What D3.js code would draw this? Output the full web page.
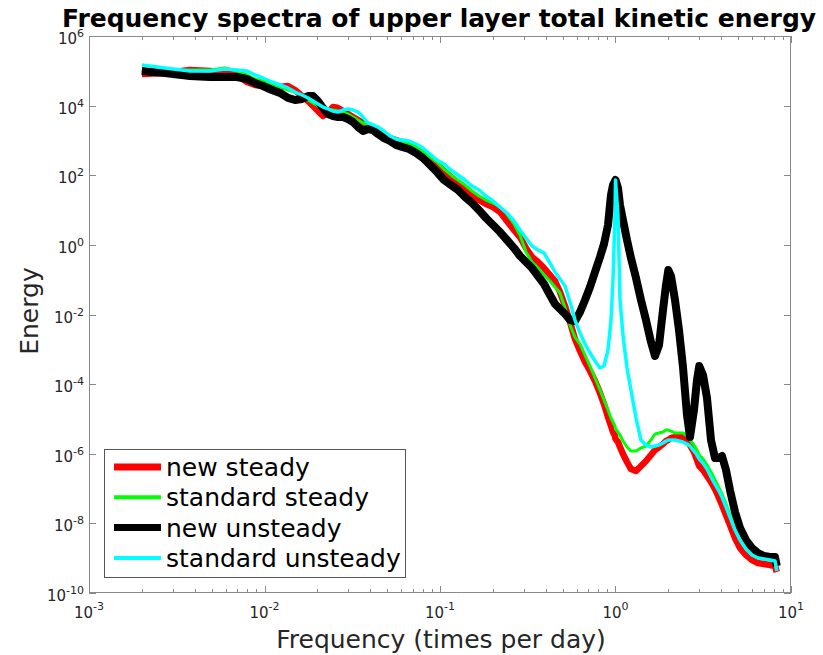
<!DOCTYPE html>
<html>
<head>
<meta charset="utf-8">
<script src="https://cdn.jsdelivr.net/npm/d3@7"></script>
<style>
html,body{margin:0;padding:0;background:#fff;}
svg{display:block;font-family:"DejaVu Sans",sans-serif;}
</style>
</head>
<body>
<svg id="chart" width="823" height="655"></svg>
<script>
// ---- data ----
const freq = [0.002, 0.00271, 0.00376, 0.00489, 0.00596, 0.00697, 0.00795, 0.00883, 0.0098, 0.01103,
  0.01226, 0.01361, 0.01492, 0.01636, 0.0177, 0.0189, 0.02017, 0.02154, 0.023, 0.02457,
  0.02623, 0.02802, 0.02991, 0.03194, 0.03411, 0.03642, 0.03888, 0.04153, 0.04433, 0.04797,
  0.0519, 0.05615, 0.06075, 0.0666, 0.073, 0.08, 0.0877, 0.0961, 0.1054, 0.1155,
  0.1266, 0.1388, 0.1522, 0.1668, 0.1829, 0.2005, 0.2198, 0.2409, 0.2641, 0.2857,
  0.309, 0.3344, 0.3618, 0.3914, 0.4234, 0.4522, 0.4829, 0.5157, 0.5505, 0.5878,
  0.6277, 0.6704, 0.7157, 0.7642, 0.8161, 0.86, 0.9064, 0.9427, 0.9678, 0.9936,
  1.0, 1.033, 1.061, 1.103, 1.163, 1.225, 1.309, 1.397, 1.492, 1.593,
  1.679, 1.77, 1.865, 1.94, 2.0, 2.071, 2.183, 2.3, 2.424, 2.555,
  2.657, 2.801, 2.913, 3.0, 3.152, 3.322, 3.501, 3.69, 3.888, 4.044,
  4.262, 4.491, 4.797, 5.123, 5.542, 5.996, 6.486, 7.018, 7.592, 8.107, 8.3];

const newSteady = [8.1e4, 8.65e4, 1.055e5, 9.9e4, 9.24e4, 7.58e4, 4.77e4, 3.91e4, 3.66e4, 3.43e4,
  3.43e4, 3.66e4, 2.81e4, 1.89e4, 1.36e4, 9.75e3, 7.0e3, 5.03e3, 6.56e3, 9.13e3,
  8.55e3, 7.0e3, 5.74e3, 4.71e3, 3.86e3, 3.17e3, 2.6e3, 2.28e3, 1.75e3, 1.43e3,
  1.17e3, 1.03e3, 902, 739, 567, 408, 293, 210, 132, 89,
  59.9, 43, 27.1, 19.4, 14.9, 12.2, 8.79, 4.85, 2.67, 1.68,
  0.812, 0.448, 0.322, 0.216, 0.1362, 0.0916, 0.0442, 0.01752, 6.08e-3, 1.975e-3,
  8.93e-4, 4.32e-4, 2.38e-4, 1.228e-4, 5.55e-5, 2.68e-5, 1.135e-5, 6.26e-6, 4.21e-6, 3.23e-6,
  2.65e-6, 2.17e-6, 1.56e-6, 9.82e-7, 5.79e-7, 3.64e-7, 3.19e-7, 4.44e-7, 6.18e-7, 9.19e-7,
  1.279e-6, 1.56e-6, 1.903e-6, 2.32e-6, 2.48e-6, 2.83e-6, 3.02e-6, 3.02e-6, 3.02e-6, 2.48e-6,
  1.781e-6, 1.121e-6, 6.6e-7, 4.44e-7, 3.41e-7, 2.29e-7, 1.541e-7, 9.7e-8, 5.35e-8, 3.37e-8,
  1.737e-8, 8.96e-9, 3.79e-9, 1.957e-9, 1.232e-9, 8.86e-10, 7.26e-10, 6.79e-10, 6.36e-10, 5.95e-10, 4.0e-10];

const standardSteady = [1.055e5, 9.9e4, 1.055e5, 1.055e5, 1.204e5, 9.9e4, 7.58e4, 5.82e4, 5.1e4, 4.18e4,
  3.43e4, 2.81e4, 2.46e4, 1.89e4, 1.45e4, 1.19e4, 9.75e3, 8.0e3, 7.48e3, 7.48e3,
  7.0e3, 6.56e3, 5.74e3, 4.71e3, 3.86e3, 3.17e3, 2.78e3, 2.28e3, 1.87e3, 1.53e3,
  1.255e3, 1.1e3, 963, 790, 648, 465, 334, 240, 151, 102,
  73, 52.4, 35.3, 25.3, 19.4, 15.9, 12.2, 7.7, 3.98, 1.92,
  0.624, 0.322, 0.216, 0.1362, 0.0916, 0.0616, 0.0414, 0.01535, 4.99e-3, 2.25e-3,
  1.42e-3, 6.86e-4, 3.31e-4, 1.497e-4, 6.77e-5, 3.5e-5, 1.804e-5, 1.062e-5, 8.15e-6, 6.26e-6,
  5.13e-6, 4.21e-6, 3.45e-6, 2.32e-6, 1.56e-6, 1.197e-6, 1.197e-6, 1.461e-6, 1.667e-6, 2.48e-6,
  3.69e-6, 3.94e-6, 4.21e-6, 4.8e-6, 4.8e-6, 4.49e-6, 3.94e-6, 3.94e-6, 3.94e-6, 3.23e-6,
  2.48e-6, 1.781e-6, 1.279e-6, 9.19e-7, 7.06e-7, 4.74e-7, 2.99e-7, 1.758e-7, 1.036e-7, 6.97e-8,
  3.59e-8, 1.737e-8, 6.88e-9, 3.32e-9, 1.833e-9, 1.232e-9, 1.011e-9, 9.46e-10, 8.86e-10, 8.29e-10, 4.57e-10];

const newUnsteady = [9.9e4, 8.65e4, 7.1e4, 6.64e4, 6.64e4, 6.64e4, 5.82e4, 4.47e4, 3.66e4, 2.81e4,
  2.31e4, 1.66e4, 1.45e4, 1.55e4, 1.89e4, 1.89e4, 1.36e4, 8.55e3, 5.74e3, 5.03e3,
  4.71e3, 4.71e3, 4.13e3, 3.38e3, 2.43e3, 1.87e3, 2.13e3, 1.99e3, 1.53e3, 1.17e3,
  963, 739, 648, 567, 436, 313, 197, 124, 73, 52.4,
  37.7, 23.7, 15.9, 10.0, 5.91, 3.72, 2.34, 1.38, 0.812, 0.479,
  0.322, 0.216, 0.1275, 0.0751, 0.0363, 0.02, 0.01438, 0.01032, 6.94e-3, 6.5e-3,
  0.01179, 0.0261, 0.0616, 0.1662, 0.448, 1.059, 3.72, 27.1, 52.4, 68.3,
  73, 43, 13.97, 5.18, 1.38, 0.4195, 0.1117, 0.0261, 6.94e-3, 1.62e-3,
  6.42e-4, 1.328e-3, 0.01345, 0.0703, 0.1897, 0.1275, 0.0261, 3.58e-3, 3.1e-4, 1.296e-5,
  3.02e-6, 1.804e-5, 1.312e-4, 3.31e-4, 1.827e-4, 3.99e-5, 2.48e-6, 7.54e-7, 7.54e-7, 8.6e-7,
  3.41e-7, 9.08e-8, 2.12e-8, 7.35e-9, 3.32e-9, 1.957e-9, 1.406e-9, 1.153e-9, 1.08e-9, 1.08e-9, 5.95e-10];

const standardUnsteady = [1.469e5, 1.204e5, 9.9e4, 9.9e4, 1.127e5, 1.055e5, 9.9e4, 7.58e4, 6.22e4, 4.77e4,
  3.91e4, 3.21e4, 2.46e4, 2.02e4, 1.66e4, 1.36e4, 1.113e4, 9.13e3, 8.0e3, 7.0e3,
  6.56e3, 7.48e3, 8.0e3, 7.48e3, 6.56e3, 4.71e3, 3.17e3, 2.78e3, 2.43e3, 1.87e3,
  1.341e3, 1.1e3, 1.03e3, 963, 790, 606, 408, 274, 210, 141,
  102, 73, 49.1, 37.7, 25.3, 18.2, 12.2, 8.23, 4.85, 2.67,
  1.575, 0.928, 0.712, 0.584, 0.301, 0.1662, 0.1046, 0.0658, 0.0228, 6.94e-3,
  2.94e-3, 1.42e-3, 7.83e-4, 4.61e-4, 2.9e-4, 3.31e-4, 9.54e-4, 6.94e-3, 0.0979, 7.21,
  73, 7.21, 0.0261, 2.57e-3, 2.9e-4, 6.77e-5, 1.062e-5, 2.48e-6, 1.781e-6, 1.56e-6,
  1.667e-6, 1.781e-6, 2.03e-6, 2.32e-6, 2.48e-6, 2.48e-6, 2.48e-6, 2.32e-6, 2.17e-6, 1.903e-6,
  1.667e-6, 1.197e-6, 9.19e-7, 7.06e-7, 5.41e-7, 3.64e-7, 2.14e-7, 1.35e-7, 8.5e-8, 5.71e-8,
  2.95e-8, 1.522e-8, 6.44e-9, 3.32e-9, 1.833e-9, 1.232e-9, 1.011e-9, 9.46e-10, 8.86e-10, 8.29e-10, 4.28e-10];

const seriesNames = ["new steady", "standard steady", "new unsteady", "standard unsteady"];
const seriesColors = ["#ff0000", "#00ff00", "#000000", "#00ffff"];
const xTickValues = [1e-3, 1e-2, 1e-1, 1, 10];
const xTickExps = ["-3", "-2", "-1", "0", "1"];
const yTickValues = [1e-10, 1e-8, 1e-6, 1e-4, 1e-2, 1, 1e2, 1e4, 1e6];
const yTickExps = ["-10", "-8", "-6", "-4", "-2", "0", "2", "4", "6"];
const titleText = "Frequency spectra of upper layer total kinetic energy";
const xLabel = "Frequency (times per day)";
const yLabel = "Energy";

// ---- layout ----
const L = 89, R = 791, T = 36, B = 593;
const svg = d3.select("#chart");
const x = d3.scaleLog().domain([1e-3, 10]).range([L, R]);
const y = d3.scaleLog().domain([1e-10, 1e6]).range([B, T]);
const axisColor = "#8a8a8a", textColor = "#262626";

// lines
const seriesData = [newSteady, standardSteady, newUnsteady, standardUnsteady];
const widths = [6.5, 3, 8, 3.5];
const line = d3.line().x(d => x(d[0])).y(d => y(d[1]));
seriesData.forEach((vals, i) => {
  const pts = freq.map((f, j) => [f, vals[j]]);
  svg.append("path").attr("d", line(pts))
    .attr("fill", "none").attr("stroke", seriesColors[i])
    .attr("stroke-width", widths[i]).attr("stroke-linejoin", "round").attr("stroke-linecap", "butt");
});

// box
const g = svg.append("g");
g.append("rect").attr("x", L + 0.5).attr("y", T + 0.5).attr("width", R - L - 1).attr("height", B - T - 1)
  .attr("fill", "none").attr("stroke", axisColor).attr("stroke-width", 1);

// x ticks (major + minor), bottom and top
const majorLen = 7, minorLen = 4;
for (let d = -3; d <= 0; d++) {
  for (let k = 2; k <= 9; k++) {
    const xv = Math.round(x(k * Math.pow(10, d))) + 0.5;
    g.append("line").attr("x1", xv).attr("x2", xv).attr("y1", B).attr("y2", B - minorLen).attr("stroke", axisColor);
    g.append("line").attr("x1", xv).attr("x2", xv).attr("y1", T).attr("y2", T + minorLen).attr("stroke", axisColor);
  }
}
xTickValues.forEach((v, i) => {
  const xv = Math.round(x(v)) + 0.5;
  g.append("line").attr("x1", xv).attr("x2", xv).attr("y1", B).attr("y2", B - majorLen).attr("stroke", axisColor);
  g.append("line").attr("x1", xv).attr("x2", xv).attr("y1", T).attr("y2", T + majorLen).attr("stroke", axisColor);
  const t = g.append("text").attr("x", x(v)).attr("y", B + 25).attr("text-anchor", "middle")
    .attr("fill", textColor).style("font-size", "15px");
  t.append("tspan").text("10");
  t.append("tspan").attr("dy", -8).style("font-size", "11px").text(xTickExps[i]);
});
yTickValues.forEach((v, i) => {
  const yv = Math.round(y(v)) + 0.5;
  g.append("line").attr("x1", L).attr("x2", L + majorLen).attr("y1", yv).attr("y2", yv).attr("stroke", axisColor);
  g.append("line").attr("x1", R).attr("x2", R - majorLen).attr("y1", yv).attr("y2", yv).attr("stroke", axisColor);
  const t = g.append("text").attr("x", L - 5).attr("y", y(v) + 8).attr("text-anchor", "end")
    .attr("fill", textColor).style("font-size", "15px");
  t.append("tspan").text("10");
  t.append("tspan").attr("dy", -7).style("font-size", "11px").text(yTickExps[i]);
});

// title and labels
svg.append("text").attr("x", 439).attr("y", 27).attr("text-anchor", "middle")
  .style("font-size", "25px").style("font-weight", "bold").attr("fill", "#000").text(titleText);
svg.append("text").attr("x", 441).attr("y", 648).attr("text-anchor", "middle")
  .style("font-size", "25px").attr("fill", textColor).text(xLabel);
svg.append("text").attr("transform", "translate(38,311) rotate(-90)").attr("text-anchor", "middle")
  .style("font-size", "25px").attr("fill", textColor).text(yLabel);

// legend
const lg = svg.append("g");
lg.append("rect").attr("x", 104.5).attr("y", 449.5).attr("width", 301).attr("height", 128)
  .attr("fill", "#fff").attr("stroke", "#555").attr("stroke-width", 1);
const legendWidths = [7, 4, 7, 4];
seriesNames.forEach((n, i) => {
  const cy = 467 + i * 30.3;
  lg.append("line").attr("x1", 114).attr("x2", 161).attr("y1", cy).attr("y2", cy)
    .attr("stroke", seriesColors[i]).attr("stroke-width", legendWidths[i]);
  lg.append("text").attr("x", 166).attr("y", cy + 9).style("font-size", "25px")
    .attr("fill", "#000").text(n);
});
</script>
</body>
</html>
